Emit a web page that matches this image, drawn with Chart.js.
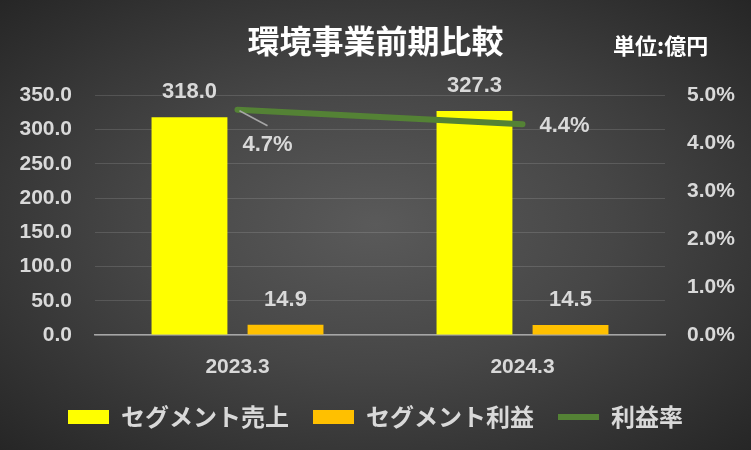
<!DOCTYPE html>
<html>
<head>
<meta charset="utf-8">
<script src="https://cdn.jsdelivr.net/npm/chart.js@4.4.1/dist/chart.umd.min.js"></script>
<style>
  html, body { margin: 0; padding: 0; background: #262626; }
  #wrap {
    width: 751px; height: 450px;
    background: radial-gradient(ellipse at 50% 50%, #5a5a5a 0%, #464646 45%, #262626 100%);
  }
</style>
</head>
<body>
<div id="wrap"><canvas id="envChart" width="751" height="450"></canvas></div>
<script>
// data
var categories = ['2023.3', '2024.3'];
var segmentSales = [318.0, 327.3];   // 億円
var segmentProfit = [14.9, 14.5];    // 億円
var profitRate = [4.7, 4.4];         // %

var numFont = "'Liberation Sans', 'DejaVu Sans', sans-serif";
var jpFont = "'Noto Sans CJK JP', 'Noto Sans', sans-serif";
var labelColor = '#D9D9D9';

// value labels + unit text
var labelPlugin = {
  id: 'valueLabels',
  afterDatasetsDraw: function(chart) {
    var ctx = chart.ctx;
    ctx.save();
    ctx.fillStyle = labelColor;
    ctx.font = 'bold 22px ' + numFont;
    ctx.textBaseline = 'middle';
    // bar labels
    [0, 1].forEach(function(di) {
      var meta = chart.getDatasetMeta(di);
      meta.data.forEach(function(el, i) {
        ctx.textAlign = 'center';
        ctx.fillText(chart.data.datasets[di].data[i].toFixed(1), el.x, el.y - 25);
      });
    });
    // line labels
    var lm = chart.getDatasetMeta(2);
    lm.data.forEach(function(el, i) {
      var txt = chart.data.datasets[2].data[i].toFixed(1) + '%';
      ctx.textAlign = 'left';
      if (i === 0) {
        ctx.strokeStyle = '#A6A6A6';
        ctx.lineWidth = 1.5;
        ctx.beginPath();
        ctx.moveTo(el.x + 2, el.y + 1);
        ctx.lineTo(el.x + 30, el.y + 16);
        ctx.stroke();
        ctx.fillText(txt, el.x + 5, el.y + 35);
      } else {
        ctx.fillText(txt, el.x + 17, el.y + 2);
      }
    });
    ctx.restore();
  },
  afterDraw: function(chart) {
    var ctx = chart.ctx;
    ctx.save();
    ctx.fillStyle = '#FFFFFF';
    ctx.font = 'bold 22px ' + jpFont;
    ctx.textAlign = 'left';
    ctx.textBaseline = 'middle';
    ctx.fillText('単位:億円', 613, 46);
    ctx.restore();
  }
};

var ctx = document.getElementById('envChart').getContext('2d');
var envChart = new Chart(ctx, {
  data: {
    labels: categories,
    datasets: [{
      type: 'bar',
      label: 'セグメント売上',
      data: segmentSales,
      backgroundColor: '#FFFF00',
      yAxisID: 'y',
      order: 1,
      pointStyle: 'rect'
    }, {
      type: 'bar',
      label: 'セグメント利益',
      data: segmentProfit,
      backgroundColor: '#FFC000',
      yAxisID: 'y',
      order: 1,
      pointStyle: 'rect'
    }, {
      type: 'line',
      label: '利益率',
      data: profitRate,
      borderColor: '#548235',
      backgroundColor: '#548235',
      borderWidth: 6,
      borderCapStyle: 'round',
      pointRadius: 0,
      yAxisID: 'y1',
      order: 0,
      pointStyle: 'line'
    }]
  },
  options: {
    responsive: false,
    animation: false,
    layout: { padding: { left: 0, right: 0, top: 0, bottom: 11 } },
    datasets: {
      bar: { categoryPercentage: 0.674, barPercentage: 0.79 }
    },
    plugins: {
      title: {
        display: true,
        text: '環境事業前期比較',
        color: '#FFFFFF',
        font: { family: jpFont, size: 32, weight: 'bold' },
        padding: { top: 22, bottom: 35 }
      },
      legend: {
        position: 'bottom',
        labels: {
          color: labelColor,
          font: { family: jpFont, size: 24, weight: 'bold' },
          usePointStyle: true,
          pointStyleWidth: 41,
          boxHeight: 14,
          padding: 24,
          sort: function(a, b) { return a.datasetIndex - b.datasetIndex; }
        }
      },
      tooltip: { enabled: false }
    },
    scales: {
      x: {
        grid: { display: false, drawTicks: false },
        border: { display: true, color: '#A6A6A6', width: 1.5 },
        ticks: {
          color: labelColor,
          font: { family: numFont, size: 21, weight: 'bold' },
          padding: 20
        },
        afterFit: function(s) { s.height = 46; }
      },
      y: {
        position: 'left',
        min: 0, max: 350,
        grid: { color: 'rgba(255,255,255,0.13)', drawTicks: false },
        border: { display: false },
        ticks: {
          stepSize: 50,
          color: labelColor,
          font: { family: numFont, size: 21, weight: 'bold' },
          padding: 23,
          callback: function(v) { return v.toFixed(1); }
        },
        afterFit: function(s) { s.width = 95; }
      },
      y1: {
        position: 'right',
        min: 0, max: 5,
        grid: { display: false, drawTicks: false },
        border: { display: false },
        ticks: {
          stepSize: 1,
          color: labelColor,
          font: { family: numFont, size: 21, weight: 'bold' },
          padding: 22,
          callback: function(v) { return v.toFixed(1) + '%'; }
        },
        afterFit: function(s) { s.width = 86; }
      }
    }
  },
  plugins: [labelPlugin]
});
</script>
</body>
</html>
